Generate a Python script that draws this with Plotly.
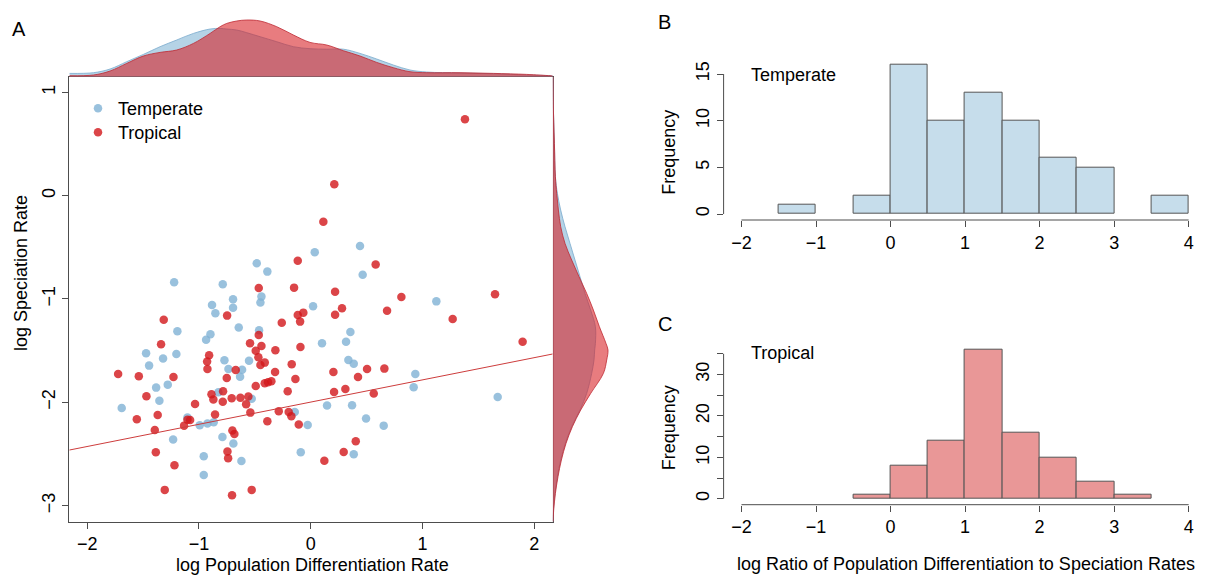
import plotly.graph_objects as go

# ---------------- data ----------------
temperate_x = [0.441, 0.036, -0.483, -0.388, 0.465, -1.222, -0.787, -0.695, -0.441, -0.450,
               -0.883, -0.695, -0.853, 0.021, 1.124, -0.644, -0.462, -1.193, -0.897, -0.936,
               0.355, 0.101, 0.316, -1.473, -1.202, -1.321, -1.446, -0.772, -0.552, -0.736,
               -0.614, -0.632, 0.337, 0.385, 0.936, 0.921, 1.673, -1.383, -1.279, -1.354,
               -1.691, -0.826, -0.528, -1.103, -0.993, -0.924, -0.868, -0.143, -0.027, 0.146,
               0.370, 0.495, 0.653, -0.790, -0.692, -1.231, -0.957, -0.620, -0.089, 0.385,
               -0.957]
temperate_y = [-0.487, -0.548, -0.655, -0.735, -0.765, -0.839, -0.858, -1.003, -0.977, -1.035,
               -1.058, -1.084, -1.139, -1.071, -1.023, -1.277, -1.303, -1.313, -1.342, -1.394,
               -1.319, -1.429, -1.413, -1.526, -1.532, -1.577, -1.645, -1.594, -1.597, -1.677,
               -1.684, -1.752, -1.590, -1.626, -1.726, -1.855, -1.948, -1.858, -1.829, -1.984,
               -2.055, -1.903, -1.965, -2.148, -2.223, -2.206, -2.194, -2.094, -2.219, -2.032,
               -2.029, -2.158, -2.226, -2.335, -2.400, -2.361, -2.523, -2.568, -2.484, -2.503,
               -2.703]

tropical_x = [1.380, 0.211, 0.113, -0.116, 0.581, -0.465, -0.149, 0.218, 0.811, 1.649,
              0.683, 0.280, 0.218, -0.116, -0.066, -0.095, -0.748, -1.315, -0.259, 1.270,
              1.896, -0.465, -1.339, -0.543, -0.441, -0.492, -0.316, -0.092, -0.909, -0.927,
              -0.924, -0.468, -0.450, -0.411, -0.170, -0.671, -0.319, 0.203, 0.504, 0.659,
              0.423, -1.723, -1.538, -1.228, -0.751, -0.137, -0.492, -0.411, -0.382, -0.352,
              -0.206, 0.209, 0.310, 0.564, -1.470, -0.888, -0.871, -0.784, -0.787, -0.707,
              -0.629, -0.558, -0.578, -1.035, -1.556, -1.369, -0.856, -0.540, -0.286, -0.197,
              -0.173, -0.388, -0.107, -1.103, -1.079, -1.133, -1.395, -0.701, -0.683, 0.403,
              -1.386, -0.745, -0.739, 0.295, 0.122, -1.219, -1.306, -0.704, -0.528]
tropical_y = [0.740, 0.110, -0.252, -0.629, -0.665, -0.894, -0.890, -0.929, -0.981, -0.955,
              -1.113, -1.090, -1.152, -1.155, -1.132, -1.219, -1.161, -1.200, -1.229, -1.194,
              -1.413, -1.348, -1.439, -1.429, -1.455, -1.500, -1.497, -1.465, -1.545, -1.606,
              -1.677, -1.565, -1.639, -1.616, -1.632, -1.687, -1.706, -1.706, -1.677, -1.674,
              -1.755, -1.726, -1.748, -1.755, -1.765, -1.774, -1.842, -1.816, -1.806, -1.797,
              -1.894, -1.900, -1.871, -1.916, -1.942, -1.923, -1.974, -1.894, -1.994, -1.961,
              -1.955, -1.945, -2.019, -2.016, -2.165, -2.123, -2.119, -2.100, -2.087, -2.094,
              -2.135, -2.184, -2.216, -2.168, -2.171, -2.226, -2.268, -2.274, -2.306, -2.377,
              -2.484, -2.477, -2.542, -2.481, -2.565, -2.610, -2.848, -2.900, -2.848]

reg_intercept = -1.998
reg_slope = 0.215

# marginal density curves
top_density_x = [-2.159, -1.944, -1.795, -1.646, -1.497, -1.348, -1.199, -1.049, -0.900, -0.811,
                 -0.751, -0.662, -0.572, -0.453, -0.304, -0.155, -0.006, 0.143, 0.292, 0.441,
                 0.590, 0.739, 0.888, 1.038, 1.336, 1.634, 1.932, 2.141, 2.165]
top_density_temperate = [0.033, 0.040, 0.077, 0.150, 0.223, 0.300, 0.367, 0.433, 0.477, 0.483,
                         0.477, 0.467, 0.440, 0.400, 0.350, 0.300, 0.280, 0.275, 0.275, 0.233,
                         0.177, 0.117, 0.067, 0.047, 0.037, 0.030, 0.017, 0.010, 0.008]
top_density_tropical = [0.010, 0.017, 0.057, 0.133, 0.207, 0.243, 0.267, 0.333, 0.433, 0.500,
                        0.533, 0.557, 0.567, 0.557, 0.500, 0.417, 0.343, 0.317, 0.260, 0.207,
                        0.143, 0.090, 0.050, 0.040, 0.040, 0.033, 0.023, 0.010, 0.008]

side_density_y = [1.152, 0.829, 0.507, 0.184, 0.023, -0.139, -0.300, -0.462, -0.623, -0.784,
                  -0.946, -1.107, -1.268, -1.430, -1.494, -1.591, -1.720, -1.914, -2.075, -2.236,
                  -2.398, -2.559, -2.720, -2.882, -3.043, -3.156]
side_density_temperate = [0.003, 0.007, 0.017, 0.027, 0.047, 0.080, 0.123, 0.173, 0.223, 0.273,
                          0.323, 0.380, 0.427, 0.427, 0.420, 0.413, 0.390, 0.340, 0.273, 0.190,
                          0.127, 0.080, 0.047, 0.023, 0.007, 0.003]
side_density_tropical = [0.003, 0.007, 0.017, 0.027, 0.040, 0.057, 0.080, 0.123, 0.190, 0.263,
                         0.340, 0.407, 0.467, 0.533, 0.553, 0.540, 0.507, 0.380, 0.280, 0.197,
                         0.133, 0.087, 0.053, 0.027, 0.010, 0.003]

hist_bin_left = [-1.5, -1.0, -0.5, 0.0, 0.5, 1.0, 1.5, 2.0, 2.5, 3.0, 3.5]
hist_bin_width = 0.5
temperate_counts = [1, 0, 2, 16, 10, 13, 10, 6, 5, 0, 2]
tropical_counts = [0, 0, 1, 8, 14, 36, 16, 10, 4, 1, 0]

scatter_xticks = [-2, -1, 0, 1, 2]
scatter_yticks = [1, 0, -1, -2, -3]
hist_xticks = [-2, -1, 0, 1, 2, 3, 4]
histB_yticks = [0, 5, 10, 15]
histC_yticks = [0, 5, 10, 15, 20, 25, 30, 35]
histC_ylabels = ['0', '', '10', '', '20', '', '30', '']

# ---------------- helpers ----------------
W, H = 1205, 575
OFF = 8                      # page body margin
FW, FH = W - OFF, H - OFF
FONT = "Liberation Sans, Arial, Helvetica, sans-serif"
AX = '#4d4d4d'


def fx(p):
    return (p - OFF) / FW


def fy(p):
    return 1 - (p - OFF) / FH


def lab(v):
    return str(v).replace('-', '\u2212')


XR = [-2.16, 2.165]
YR = [-3.156, 1.152]

blue_pt = 'rgba(128,178,212,0.8)'
red_pt = 'rgba(210,22,26,0.8)'
blue_fill = 'rgba(150,192,220,0.7)'
red_fill = 'rgba(215,30,35,0.58)'
blue_edge = 'rgb(120,170,205)'
red_edge = 'rgb(190,40,50)'

fig = go.Figure()

# scatter
fig.add_trace(go.Scatter(x=temperate_x, y=temperate_y, mode='markers', name='Temperate',
                         marker=dict(color=blue_pt, size=8.5, line=dict(width=0)),
                         xaxis='x', yaxis='y', legend='legend'))
fig.add_trace(go.Scatter(x=tropical_x, y=tropical_y, mode='markers', name='Tropical',
                         marker=dict(color=red_pt, size=8.5, line=dict(width=0)),
                         xaxis='x', yaxis='y', legend='legend2'))
fig.add_trace(go.Scatter(x=XR, y=[reg_intercept + reg_slope * v for v in XR], mode='lines',
                         line=dict(color='rgb(205,60,60)', width=1), showlegend=False,
                         xaxis='x', yaxis='y', hoverinfo='skip'))

# top marginal densities
fig.add_trace(go.Scatter(x=top_density_x, y=top_density_temperate, mode='lines', fill='tozeroy',
                         fillcolor=blue_fill, line=dict(color=blue_edge, width=0.8, shape='spline'),
                         showlegend=False, xaxis='x2', yaxis='y2', hoverinfo='skip'))
fig.add_trace(go.Scatter(x=top_density_x, y=top_density_tropical, mode='lines', fill='tozeroy',
                         fillcolor=red_fill, line=dict(color=red_edge, width=0.8, shape='spline'),
                         showlegend=False, xaxis='x2', yaxis='y2', hoverinfo='skip'))

# side marginal densities
fig.add_trace(go.Scatter(x=side_density_temperate, y=side_density_y, mode='lines', fill='tozerox',
                         fillcolor=blue_fill, line=dict(color=blue_edge, width=0.8, shape='spline'),
                         showlegend=False, xaxis='x3', yaxis='y3', hoverinfo='skip'))
fig.add_trace(go.Scatter(x=side_density_tropical, y=side_density_y, mode='lines', fill='tozerox',
                         fillcolor=red_fill, line=dict(color=red_edge, width=0.8, shape='spline'),
                         showlegend=False, xaxis='x3', yaxis='y3', hoverinfo='skip'))


# histograms (empty bins are not drawn)
def nonzero(counts):
    xs = [b + hist_bin_width / 2 for b, c in zip(hist_bin_left, counts) if c > 0]
    ys = [c for c in counts if c > 0]
    return xs, ys


bx, by = nonzero(temperate_counts)
cx, cy = nonzero(tropical_counts)
fig.add_trace(go.Bar(x=bx, y=by, width=hist_bin_width,
                     marker=dict(color='rgb(198,221,235)', line=dict(color='rgb(85,85,85)', width=1)),
                     showlegend=False, xaxis='x4', yaxis='y4'))
fig.add_trace(go.Bar(x=cx, y=cy, width=hist_bin_width,
                     marker=dict(color='rgb(233,151,151)', line=dict(color='rgb(85,85,85)', width=1)),
                     showlegend=False, xaxis='x5', yaxis='y5'))

tickfont = dict(family=FONT, size=18, color='black')
common = dict(showgrid=False, zeroline=False, ticks='outside', ticklen=6, tickwidth=1,
              tickcolor=AX, tickfont=tickfont)
hidden = dict(visible=False, showgrid=False, zeroline=False, fixedrange=True)

HXR = [-2.24, (W - 891.1) / 74.4]
legfont = dict(family=FONT, size=18, color='black')

fig.update_layout(
    width=FW, height=FH, margin=dict(l=0, r=0, t=0, b=0), autosize=False,
    paper_bgcolor='white', plot_bgcolor='rgba(0,0,0,0)',
    font=dict(family=FONT, size=18, color='black'),
    bargap=0,
    xaxis=dict(domain=[fx(69.3), fx(552.7)], range=XR, anchor='y', tickvals=scatter_xticks,
               ticktext=[lab(v) for v in scatter_xticks], showline=True, mirror=True,
               linecolor=AX, linewidth=1, **common),
    yaxis=dict(domain=[fy(521.7), fy(76.7)], range=YR, anchor='x', tickvals=scatter_yticks,
               ticktext=[lab(v) for v in scatter_yticks], tickangle=-90, showline=True,
               mirror=True, linecolor=AX, linewidth=1, **common),
    xaxis2=dict(domain=[fx(69.3), fx(552.7)], range=XR, anchor='y2', **hidden),
    yaxis2=dict(domain=[fy(76.7), fy(18.3)], range=[0, (76.7 - 18.3) * 0.01], anchor='x2', **hidden),
    xaxis3=dict(domain=[fx(552.7), fx(612.7)], range=[0, 0.60], anchor='y3', **hidden),
    yaxis3=dict(domain=[fy(521.7), fy(76.7)], range=YR, anchor='x3', **hidden),
    xaxis4=dict(domain=[fx(723.6), 1.0], range=HXR, anchor='y4', tickvals=hist_xticks,
                ticktext=[lab(v) for v in hist_xticks], showline=False, **common),
    yaxis4=dict(domain=[fy(220), fy(58.7)], range=[-0.64, 16.64], anchor='x4',
                tickvals=histB_yticks, ticktext=[str(v) for v in histB_yticks], tickangle=-90,
                showline=False, **common),
    xaxis5=dict(domain=[fx(723.6), 1.0], range=HXR, anchor='y5', tickvals=hist_xticks,
                ticktext=[lab(v) for v in hist_xticks], showline=False, **common),
    yaxis5=dict(domain=[fy(504.7), fy(343.7)], range=[-1.44, 37.44], anchor='x5',
                tickvals=histC_yticks, ticktext=histC_ylabels, tickangle=-90,
                showline=False, **common),
    legend=dict(x=fx(78), y=fy(90), xanchor='left', yanchor='top', bgcolor='rgba(0,0,0,0)',
                font=legfont, borderwidth=0),
    legend2=dict(x=fx(78), y=fy(114), xanchor='left', yanchor='top', bgcolor='rgba(0,0,0,0)',
                 font=legfont, borderwidth=0),
)

# R-style axis lines (spanning first to last tick)
shapes = []
for xa, ya, yt in (('x4', 'y4', histB_yticks), ('x5', 'y5', histC_yticks)):
    shapes.append(dict(type='line', xref=xa, yref=ya + ' domain', x0=hist_xticks[0],
                       x1=hist_xticks[-1], y0=0, y1=0, line=dict(color=AX, width=1)))
    shapes.append(dict(type='line', xref=xa + ' domain', yref=ya, x0=0, x1=0, y0=yt[0],
                       y1=yt[-1], line=dict(color=AX, width=1)))
fig.update_layout(shapes=shapes)


def ann(text, x, y, size=18, angle=0, xanchor='center'):
    fig.add_annotation(text=text, x=fx(x), y=fy(y), xref='paper', yref='paper',
                       showarrow=False, textangle=angle, xanchor=xanchor, yanchor='middle',
                       font=dict(family=FONT, size=size, color='black'))


ann('A', 18.5, 29, size=20)
ann('B', 664.5, 22, size=20)
ann('C', 664.5, 324, size=20)
ann('log Speciation Rate', 21, 273, angle=-90)
ann('log Population Differentiation Rate', 312, 565)
ann('Frequency', 669, 152.7, angle=-90)
ann('Frequency', 669, 428.3, angle=-90)
ann('Temperate', 749, 75, xanchor='left')
ann('Tropical', 749, 353, xanchor='left')
ann('log Ratio of Population Differentiation to Speciation Rates', 966, 564)

fig.write_html("out.html")
